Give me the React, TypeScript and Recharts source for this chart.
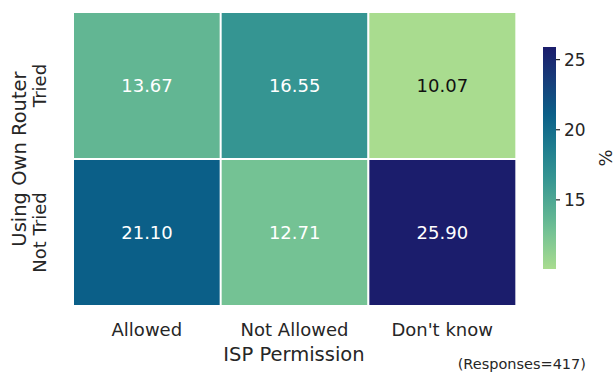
import { BarChart, Bar, XAxis, YAxis, Cell, LabelList } from 'recharts';

// ISP permission (columns) x own-router attempt (rows), shares in %
const PERMISSIONS = ['Allowed', 'Not Allowed', "Don't know"];
const ROWS = ['Tried', 'Not Tried'];
const TRIED = [13.67, 16.55, 10.07];
const NOT_TRIED = [21.1, 12.71, 25.9];
const CBAR_TICKS = [15, 20, 25];
const RESPONSES = 417;

const ALL_VALUES = [...TRIED, ...NOT_TRIED];
const VMIN = Math.min(...ALL_VALUES);
const VMAX = Math.max(...ALL_VALUES);

const FONT = 'DejaVu Sans, sans-serif';
const TEXT = '#262626';

// green -> teal -> navy colour ramp
const CMAP: [number, string][] = [
  [0.0, '#a9dc8f'],
  [0.167, '#74c294'],
  [0.227, '#62b693'],
  [0.41, '#359592'],
  [0.55, '#1f7d8f'],
  [0.697, '#0b5f88'],
  [0.85, '#173d7a'],
  [1.0, '#1b1d6c'],
];

const hexToRgb = (h: string) => [1, 3, 5].map((i) => parseInt(h.slice(i, i + 2), 16));

function colorFor(v: number) {
  const t = Math.max(0, Math.min(1, (v - VMIN) / (VMAX - VMIN)));
  for (let i = 1; i < CMAP.length; i++) {
    const [t1, c1] = CMAP[i];
    const [t0, c0] = CMAP[i - 1];
    if (t <= t1) {
      const f = (t - t0) / (t1 - t0);
      const a = hexToRgb(c0);
      const b = hexToRgb(c1);
      const rgb = a.map((x, k) => Math.round(x + (b[k] - x) * f));
      return `rgb(${rgb.join(',')})`;
    }
  }
  return CMAP[CMAP.length - 1][1];
}

// dark text on light cells, white text on dark ones
function textColorFor(v: number) {
  const m = colorFor(v).match(/\d+/g)!.map(Number);
  const lin = m.map((c) => {
    const s = c / 255;
    return s <= 0.03928 ? s / 12.92 : Math.pow((s + 0.055) / 1.055, 2.4);
  });
  const lum = 0.2126 * lin[0] + 0.7152 * lin[1] + 0.0722 * lin[2];
  return lum > 0.5 ? '#111' : '#fff';
}

const data = PERMISSIONS.map((perm, i) => ({
  perm,
  tried: TRIED[i],
  notTried: NOT_TRIED[i],
}));

const cbarData = [{ name: 'cbar', range: [VMIN, VMAX] }];

const CellLabel = (props: any) => {
  const { x, y, width, height, value } = props;
  return (
    <text
      x={x + width / 2}
      y={y + height / 2}
      textAnchor="middle"
      dominantBaseline="central"
      fontFamily={FONT}
      fontSize={18}
      fill={textColorFor(value)}
    >
      {Number(value).toFixed(2)}
    </text>
  );
};

const XTick = (props: any) => {
  const { x, y, payload } = props;
  return (
    <text x={x} y={y + 30} textAnchor="middle" fontFamily={FONT} fontSize={18} fill={TEXT}>
      {payload.value}
    </text>
  );
};

const YTick = (props: any) => {
  const { x, y, payload } = props;
  const label = payload.value > 1 ? ROWS[0] : ROWS[1];
  const tx = x - 27;
  return (
    <text
      x={tx}
      y={y}
      transform={`rotate(-90, ${tx}, ${y})`}
      textAnchor="middle"
      fontFamily={FONT}
      fontSize={18}
      fill={TEXT}
    >
      {label}
    </text>
  );
};

export default function App() {
  return (
    <div style={{ position: 'absolute', left: 0, top: 0, width: 615, height: 374, background: '#fff' }}>
      <div style={{ position: 'absolute', left: 0, top: 0 }}>
        <BarChart
          width={615}
          height={374}
          data={data}
          margin={{ top: 12, right: 99, bottom: 0, left: 0 }}
          barCategoryGap={0}
          barGap={0}
        >
          <XAxis
            dataKey="perm"
            height={68}
            axisLine={false}
            tickLine={false}
            tickSize={0}
            tickMargin={0}
            tick={<XTick />}
            interval={0}
          />
          <YAxis
            type="number"
            domain={[0, 2]}
            ticks={[0.5, 1.5]}
            width={73}
            axisLine={false}
            tickLine={false}
            tickSize={0}
            tickMargin={0}
            tick={<YTick />}
          />
          <Bar dataKey={() => 1} stackId="rows" isAnimationActive={false} stroke="#fff" strokeWidth={2}>
            {NOT_TRIED.map((v, i) => (
              <Cell key={`nt-${i}`} fill={colorFor(v)} />
            ))}
            <LabelList dataKey="notTried" content={<CellLabel />} />
          </Bar>
          <Bar dataKey={() => 1} stackId="rows" isAnimationActive={false} stroke="#fff" strokeWidth={2}>
            {TRIED.map((v, i) => (
              <Cell key={`t-${i}`} fill={colorFor(v)} />
            ))}
            <LabelList dataKey="tried" content={<CellLabel />} />
          </Bar>
        </BarChart>
      </div>

      {/* colour bar */}
      <div style={{ position: 'absolute', left: 535, top: 0 }}>
        <BarChart
          width={80}
          height={374}
          data={cbarData}
          margin={{ top: 47, right: 0, bottom: 105, left: 8 }}
          barCategoryGap={0}
        >
          <defs>
            <linearGradient id="cbGrad" x1="0" y1="1" x2="0" y2="0">
              {CMAP.map(([t, c]) => (
                <stop key={t} offset={`${t * 100}%`} stopColor={c} />
              ))}
            </linearGradient>
          </defs>
          <XAxis dataKey="name" hide />
          <YAxis
            orientation="right"
            type="number"
            domain={[VMIN, VMAX]}
            ticks={CBAR_TICKS}
            width={59}
            axisLine={false}
            tickSize={4}
            tickMargin={4}
            tickLine={{ stroke: TEXT, strokeWidth: 1.2 }}
            tick={{ fontFamily: FONT, fontSize: 17, fill: TEXT }}
          />
          <Bar dataKey="range" fill="url(#cbGrad)" isAnimationActive={false} />
        </BarChart>
      </div>

      <svg
        width={615}
        height={374}
        style={{ position: 'absolute', left: 0, top: 0, pointerEvents: 'none' }}
        fontFamily={FONT}
      >
        <text x={294} y={361} textAnchor="middle" fontSize={19.5} fill={TEXT}>
          ISP Permission
        </text>
        <text x={26} y={159} transform="rotate(-90, 26, 159)" textAnchor="middle" fontSize={19.5} fill={TEXT}>
          Using Own Router
        </text>
        <text x={612} y={158} transform="rotate(-90, 612, 158)" textAnchor="middle" fontSize={18} fill={TEXT}>
          %
        </text>
        <text x={586} y={369} textAnchor="end" fontSize={14.5} fill={TEXT}>
          (Responses={RESPONSES})
        </text>
      </svg>
    </div>
  );
}
